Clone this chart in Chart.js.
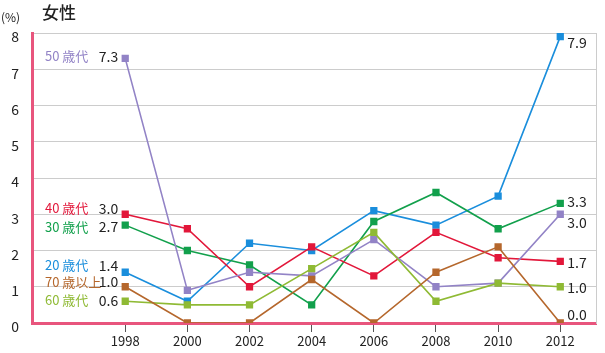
<!DOCTYPE html>
<html>
<head>
<meta charset="utf-8">
<script src="https://cdn.jsdelivr.net/npm/chart.js@4"></script>
<style>
  html, body { margin: 0; padding: 0; background: #fff; }
  #wrap { width: 605px; height: 353px; }
</style>
</head>
<body>
<div id="wrap"><canvas id="chart" width="605" height="353"></canvas></div>
<script>
// years on the x axis
const years = [1998, 2000, 2002, 2004, 2006, 2008, 2010, 2012];

// series values (%)
const age20 = [1.4, 0.6, 2.2, 2.0, 3.1, 2.7, 3.5, 7.9];
const age30 = [2.7, 2.0, 1.6, 0.5, 2.8, 3.6, 2.6, 3.3];
const age40 = [3.0, 2.6, 1.0, 2.1, 1.3, 2.5, 1.8, 1.7];
const age50 = [7.3, 0.9, 1.4, 1.3, 2.3, 1.0, 1.1, 3.0];
const age60 = [0.6, 0.5, 0.5, 1.5, 2.5, 0.6, 1.1, 1.0];
const age70 = [1.0, 0.0, 0.0, 1.2, 0.0, 1.4, 2.1, 0.0];

const seriesNames = ['50 歳代', '40 歳代', '30 歳代', '20 歳代', '70 歳以上', '60 歳代'];
const yTicks = [0, 1, 2, 3, 4, 5, 6, 7, 8];

const FONT = '"Noto Sans CJK JP", "Noto Sans", sans-serif';

// label placement tweaks (pixels), kept apart from the data
const leftLabelShift = { '50 歳代': -2, '40 歳代': -6, '30 歳代': 2, '20 歳代': -7, '70 歳以上': -5, '60 歳代': -1 };
const rightLabelShift = { '50 歳代': 8, '40 歳代': 1, '30 歳代': -2, '20 歳代': 6, '70 歳以上': -8, '60 歳代': 1 };

function makeSet(label, values, color) {
  return {
    label: label,
    data: years.map((y, i) => ({ x: y, y: values[i] })),
    borderColor: color,
    backgroundColor: color,
    borderWidth: 1.6,
    pointStyle: 'rect',
    pointRadius: 4,
    pointHoverRadius: 4,
    tension: 0
  };
}

const datasets = [
  makeSet(seriesNames[4], age70, '#b5672c'),
  makeSet(seriesNames[5], age60, '#8fba34'),
  makeSet(seriesNames[0], age50, '#9283c6'),
  makeSet(seriesNames[1], age40, '#e2173a'),
  makeSet(seriesNames[2], age30, '#12a04c'),
  makeSet(seriesNames[3], age20, '#1a8edc')
];

// draws title, unit, series names and end values
const labelPlugin = {
  id: 'labels',
  afterDatasetsDraw(chart) {
    const ctx = chart.ctx;
    const xs = chart.scales.x;
    const ys = chart.scales.y;
    ctx.save();
    ctx.textBaseline = 'middle';

    ctx.fillStyle = '#222';
    ctx.font = '500 17px ' + FONT;
    ctx.textAlign = 'left';
    ctx.fillText('女性', 42, 13);
    ctx.font = '12px ' + FONT;
    ctx.fillText('(%)', 1, 17);

    chart.data.datasets.forEach(ds => {
      const first = ds.data[0];
      const last = ds.data[ds.data.length - 1];
      const x0 = xs.getPixelForValue(first.x);
      const y0 = ys.getPixelForValue(first.y) + leftLabelShift[ds.label];
      ctx.font = '13px ' + FONT;
      ctx.textAlign = 'left';
      ctx.fillStyle = ds.borderColor;
      ctx.fillText(ds.label, 45, y0);
      ctx.fillStyle = '#222';
      ctx.font = '14px ' + FONT;
      ctx.textAlign = 'right';
      ctx.fillText(first.y.toFixed(1), x0 - 7, y0);

      const x1 = xs.getPixelForValue(last.x);
      const y1 = ys.getPixelForValue(last.y) + rightLabelShift[ds.label];
      ctx.textAlign = 'left';
      ctx.fillText(last.y.toFixed(1), x1 + 7, y1);
    });
    ctx.restore();
  }
};

new Chart(document.getElementById('chart'), {
  type: 'line',
  data: { datasets: datasets },
  plugins: [labelPlugin],
  options: {
    responsive: false,
    animation: false,
    events: [],
    layout: { padding: { top: 33, left: 0, right: 0, bottom: 0 } },
    plugins: {
      legend: { display: false },
      tooltip: { enabled: false }
    },
    scales: {
      x: {
        type: 'linear',
        min: 1995,
        max: 2013.15,
        afterBuildTicks: axis => { axis.ticks = years.map(v => ({ value: v })); },
        afterFit: axis => { axis.height = 30; },
        grid: {
          drawOnChartArea: false,
          drawTicks: true,
          tickLength: 9,
          tickColor: '#555'
        },
        border: { color: '#e8557d', width: 3 },
        ticks: {
          color: '#222',
          font: { family: FONT, size: 13 },
          padding: 1,
          maxRotation: 0,
          callback: v => String(v)
        }
      },
      y: {
        min: 0,
        max: 8,
        afterBuildTicks: axis => { axis.ticks = yTicks.map(v => ({ value: v })); },
        afterFit: axis => { axis.width = 32; },
        grid: { color: '#cccccc', lineWidth: 1, drawTicks: false },
        border: { color: '#e8557d', width: 3 },
        ticks: {
          color: '#222',
          font: { family: FONT, size: 14 },
          padding: 13,
          labelOffset: 4
        }
      },
      y2: {
        position: 'right',
        min: 0,
        max: 8,
        afterFit: axis => { axis.width = 9; },
        grid: { drawOnChartArea: false, drawTicks: false },
        border: { color: '#cccccc', width: 1 },
        ticks: { display: false }
      }
    }
  }
});
</script>
</body>
</html>
